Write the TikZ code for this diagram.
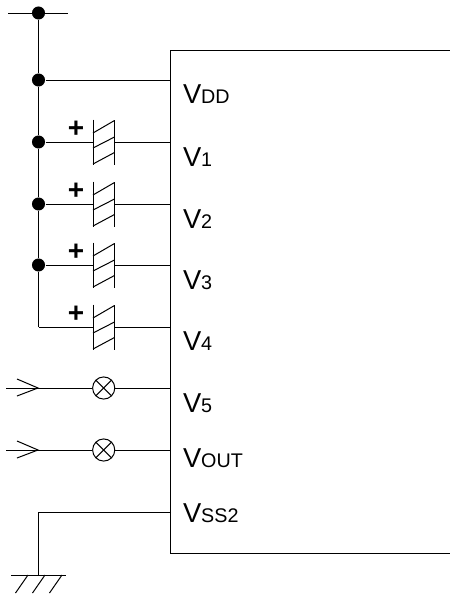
\documentclass[tikz,border=0pt]{standalone}
\usepackage{fontspec}
\setmainfont{Liberation Sans}
\newcommand{\lbl}[2]{\fontsize{20.5pt}{22pt}\selectfont #1\fontsize{14.8pt}{16pt}\selectfont #2}
\tikzset{
  every path/.style={line width=0.75pt},
  pin/.style={circle,fill=black,draw=none,minimum size=9.8pt,inner sep=0pt},
  lab/.style={anchor=base west,inner sep=0pt,outer sep=0pt},
  plus/.style={inner sep=0pt,font=\fontsize{21pt}{21pt}\selectfont\bfseries},
  lamp/.style={circle,draw,minimum size=16.6pt,inner sep=0pt,path picture={
     \draw ([shift={(2.4pt,-2.4pt)}]path picture bounding box.north west) -- ([shift={(-2.4pt,2.4pt)}]path picture bounding box.south east);
     \draw ([shift={(2.4pt,2.4pt)}]path picture bounding box.south west) -- ([shift={(-2.4pt,-2.4pt)}]path picture bounding box.north east);}},
}
\begin{document}
\begin{tikzpicture}[x=0.75pt,y=-0.75pt]
\useasboundingbox (0,0) rectangle (450,594);
% IC box
\coordinate (bl) at (450,553);
\coordinate (br) at (450,50.5);
\draw (br) -- (170.5,50.5) -- (170.5,553) -- (bl);
% pins on the IC edge
\foreach \n/\y in {dd/80,one/142,two/204,three/265,four/327,five/388,out/450,ss/512}
  \coordinate (p\n) at (171,\y);
% labels
\node[lab] (ldd) at (183,103) {\lbl{V}{DD}};
\node[lab] (l1) at (183,166) {\lbl{V}{1}};
\node[lab] (l2) at (183,228) {\lbl{V}{2}};
\node[lab] (l3) at (183,289) {\lbl{V}{3}};
\node[lab] (l4) at (183,350) {\lbl{V}{4}};
\node[lab] (l5) at (183,412) {\lbl{V}{5}};
\node[lab] (lout) at (183,467) {\lbl{V}{OUT}};
\node[lab] (lss) at (183,522) {\lbl{V}{SS2}};
% bus
\coordinate (tl) at (8,13);
\coordinate (tr) at (68,13);
\node[pin] (d0) at (38.5,13) {};
\node[pin] (d1) at (38.5,80) {};
\node[pin] (d2) at (38.5,142) {};
\node[pin] (d3) at (38.5,204) {};
\node[pin] (d4) at (38.5,265) {};
\coordinate (c4) at (38.5,327);
\draw (tl) -- (tr);
\draw (d0) -- (d1) -- (d2) -- (d3) -- (d4) -- (c4);
\draw (d1) -- (pdd);
% capacitors
\foreach \n/\d/\y in {one/d2/142,two/d3/204,three/d4/265,four/c4/327}{
  \coordinate (a\n) at (93,\y);
  \coordinate (b\n) at (114.5,\y);
  \draw (\d) -- (a\n);
  \draw (b\n) -- (p\n);
  \draw (93,\y-22.5) -- (93,\y+22.5);
  \draw (114.5,\y-22) -- (114.5,\y+23);
  \draw (93,\y-9) -- (114.5,\y-21.5);
  \draw (93,\y+6) -- (114.5,\y-5);
  \draw (93,\y+22) -- (114.5,\y+10.5);
  \node[plus] (s\n) at (76,\y-12.5) {+};
}
% lamps with input arrows
\foreach \n/\y in {five/388,out/450}{
  \node[lamp] (m\n) at (103.7,\y) {};
  \coordinate (i\n) at (38,\y);
  \coordinate (f\n) at (6,\y);
  \draw (f\n) -- (i\n);
  \draw (17,\y-9) -- (i\n) -- (17,\y+8);
  \draw (i\n) -- (m\n);
  \draw (m\n) -- (p\n);
}
% ground
\coordinate (g0) at (38.5,512);
\coordinate (g1) at (38.5,575);
\draw (pss) -- (g0) -- (g1);
\coordinate (gl) at (11,575);
\coordinate (gr) at (66,575);
\draw (gl) -- (gr);
\draw (28,575) -- (15.5,593);
\draw (45,575) -- (32.5,593);
\draw (62,575) -- (49.5,593);
\end{tikzpicture}
\end{document}
